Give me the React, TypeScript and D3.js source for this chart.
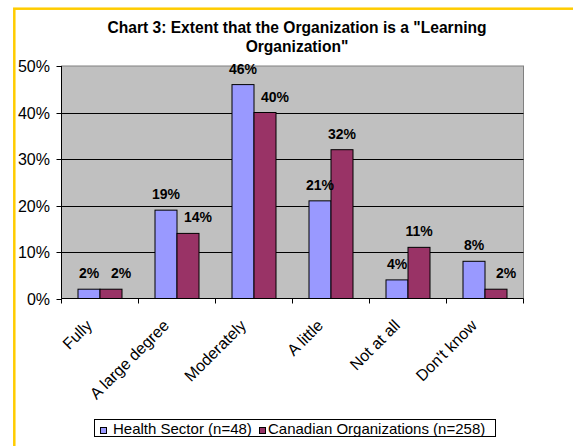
import React from "react";
import * as d3 from "d3";

const categories = ["Fully", "A large degree", "Moderately", "A little", "Not at all", "Don't know"];
const seriesNames = ["Health Sector (n=48)", "Canadian Organizations (n=258)"];
const healthSector = [2, 19, 46, 21, 4, 8];
const canadianOrgs = [2, 14, 40, 32, 11, 2];
const yTicks = [0, 10, 20, 30, 40, 50];
const titleLines = ["Chart 3: Extent that the Organization is a \"Learning", "Organization\""];
const colors = ["#9999FF", "#993366"];

const FONT = "'Liberation Sans', Arial, Helvetica, sans-serif";

export default function App() {
  const W = 573, H = 446;
  const plot = { left: 61.5, right: 523.5, top: 66, bottom: 298.5 };

  const x = d3.scaleBand<string>().domain(categories).range([plot.left, plot.right]).paddingInner(0).paddingOuter(0);
  const xs = d3.scaleBand<string>().domain(seriesNames).range([0, x.bandwidth()]).paddingInner(0).paddingOuter(0.75);
  const y = d3.scaleLinear().domain([0, 50]).range([plot.bottom, plot.top]);

  const series = [healthSector, canadianOrgs];
  const boundaries = categories.map((c) => x(c)!).concat([plot.right]);

  return (
    <svg width={W} height={H} style={{ position: "absolute", left: 0, top: 0, background: "#fff" }} fontFamily={FONT}>
      <rect x={0} y={0} width={W} height={H} fill="#fff" />
      <rect x={14.3} y={8.7} width={700} height={600} fill="#fff" stroke="#FFCC00" strokeWidth={2.5} />

      {titleLines.map((t, i) => (
        <text key={i} x={297} y={33.3 + i * 18.4} textAnchor="middle" fontSize={15.6} fontWeight="bold" fill="#000">
          {t}
        </text>
      ))}

      {/* plot area */}
      <rect x={plot.left} y={plot.top} width={plot.right - plot.left} height={plot.bottom - plot.top} fill="#C0C0C0" stroke="#808080" strokeWidth={1} />
      {yTicks.filter((t) => t > 0 && t < 50).map((t) => (
        <line key={t} x1={plot.left} x2={plot.right} y1={Math.round(y(t)) + 0.5} y2={Math.round(y(t)) + 0.5} stroke="#000" strokeWidth={1} />
      ))}

      {/* bars */}
      {series.map((vals, si) =>
        vals.map((v, ci) => {
          const bx = x(categories[ci])! + xs(seriesNames[si])!;
          return (
            <rect key={`${si}-${ci}`} x={bx} y={y(v)} width={xs.bandwidth()} height={plot.bottom - y(v)} fill={colors[si]} stroke="#000" strokeWidth={1} />
          );
        })
      )}

      {/* axes */}
      <line x1={plot.left} x2={plot.left} y1={plot.top} y2={plot.bottom} stroke="#000" />
      <line x1={plot.left} x2={plot.right} y1={plot.bottom} y2={plot.bottom} stroke="#000" />
      {yTicks.map((t) => (
        <g key={t}>
          <line x1={plot.left - 5} x2={plot.left} y1={Math.round(y(t)) + 0.5} y2={Math.round(y(t)) + 0.5} stroke="#000" />
          <text x={50} y={y(t) + 6} textAnchor="end" fontSize={16} fill="#000">{`${t}%`}</text>
        </g>
      ))}
      {boundaries.map((b, i) => (
        <line key={i} x1={b} x2={b} y1={plot.bottom} y2={plot.bottom + 5} stroke="#000" />
      ))}
      {categories.map((c) => {
        const cx = x(c)! + x.bandwidth() / 2;
        return (
          <text key={c} transform={`translate(${cx - 15},318.5) rotate(-45)`} textAnchor="end" dy="0.71em" fontSize={16} fill="#000">
            {c}
          </text>
        );
      })}

      {/* data labels */}
      {series.map((vals, si) =>
        vals.map((v, ci) => {
          const bx = x(categories[ci])! + xs(seriesNames[si])! + xs.bandwidth() / 2;
          const shift = si === 1 && canadianOrgs[ci] <= healthSector[ci] ? 10 : 0;
          return (
            <text key={`l${si}-${ci}`} x={bx + shift} y={y(v) - 11} textAnchor="middle" fontSize={14} fontWeight="bold" fill="#000">
              {`${v}%`}
            </text>
          );
        })
      )}

      {/* legend */}
      <rect x={94.5} y={419.5} width={401} height={17} fill="#fff" stroke="#000" strokeWidth={1} />
      {[{ mx: 100.5, tx: 113 }, { mx: 259.5, tx: 268 }].map((p, i) => (
        <g key={i}>
          <rect x={p.mx} y={427.5} width={6} height={6} fill={colors[i]} stroke="#000" strokeWidth={1} />
          <text x={p.tx} y={433.5} fontSize={15} fill="#000">{seriesNames[i]}</text>
        </g>
      ))}
    </svg>
  );
}
